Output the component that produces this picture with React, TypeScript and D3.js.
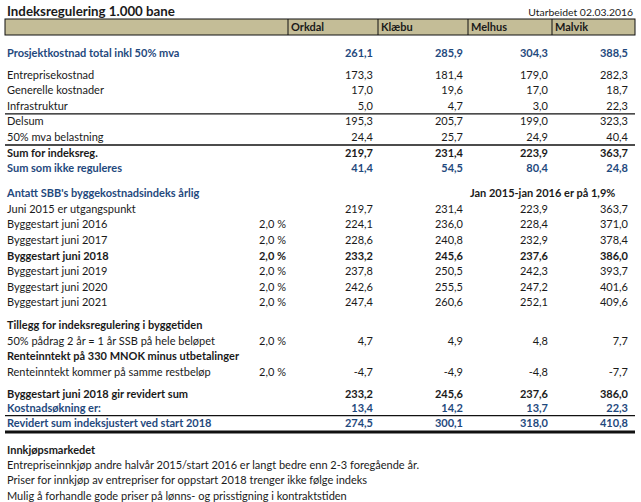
import React from "react";
import * as d3 from "d3";

const title = "Indeksregulering 1.000 bane";
const dateNote = "Utarbeidet 02.03.2016";
const columns = ["Orkdal", "Klæbu", "Melhus", "Malvik"];

const prosjektkostnad = [261.1, 285.9, 304.3, 388.5];
const entreprisekostnad = [173.3, 181.4, 179.0, 282.3];
const generelleKostnader = [17.0, 19.6, 17.0, 18.7];
const infrastruktur = [5.0, 4.7, 3.0, 22.3];
const delsum = [195.3, 205.7, 199.0, 323.3];
const mvaBelastning = [24.4, 25.7, 24.9, 40.4];
const sumIndeksreg = [219.7, 231.4, 223.9, 363.7];
const sumIkkeReguleres = [41.4, 54.5, 80.4, 24.8];
const juni2015 = [219.7, 231.4, 223.9, 363.7];
const bygg2016 = [224.1, 236.0, 228.4, 371.0];
const bygg2017 = [228.6, 240.8, 232.9, 378.4];
const bygg2018 = [233.2, 245.6, 237.6, 386.0];
const bygg2019 = [237.8, 250.5, 242.3, 393.7];
const bygg2020 = [242.6, 255.5, 247.2, 401.6];
const bygg2021 = [247.4, 260.6, 252.1, 409.6];
const tilleggIndeks = [4.7, 4.9, 4.8, 7.7];
const renteinntekt = [-4.7, -4.9, -4.8, -7.7];
const revidertSum2018 = [233.2, 245.6, 237.6, 386.0];
const kostnadsokning = [13.4, 14.2, 13.7, 22.3];
const revidertIndeksjustert = [274.5, 300.1, 318.0, 410.8];
const aarligRate = 2.0;
const notesTitle = "Innkjøpsmarkedet";
const notes = [
  "Entrepriseinnkjøp andre halvår 2015/start 2016 er langt bedre enn 2-3 foregående år.",
  "Priser for innkjøp av entrepriser for oppstart 2018 trenger ikke følge indeks",
  "Mulig å forhandle gode priser på lønns- og prisstigning i kontraktstiden",
];

type Row = {
  label: string;
  values?: number[];
  pct?: number;
  style?: "blue" | "bold" | "plain";
  gap?: number;
  extra?: string;
};

const rows: Row[] = [
  { label: "Prosjektkostnad total inkl 50% mva", values: prosjektkostnad, style: "blue", gap: 0 },
  { label: "Entreprisekostnad", values: entreprisekostnad, gap: 0.4 },
  { label: "Generelle kostnader", values: generelleKostnader },
  { label: "Infrastruktur", values: infrastruktur },
  { label: "Delsum", values: delsum },
  { label: "50% mva belastning", values: mvaBelastning },
  { label: "Sum for indeksreg.", values: sumIndeksreg, style: "bold" },
  { label: "Sum som ikke reguleres", values: sumIkkeReguleres, style: "blue" },
  { label: "Antatt SBB's byggekostnadsindeks årlig", style: "blue", gap: 0.6, extra: "Jan 2015-jan 2016 er på 1,9%" },
  { label: "Juni 2015 er utgangspunkt", values: juni2015 },
  { label: "Byggestart juni 2016", values: bygg2016, pct: aarligRate },
  { label: "Byggestart juni 2017", values: bygg2017, pct: aarligRate },
  { label: "Byggestart juni 2018", values: bygg2018, pct: aarligRate, style: "bold" },
  { label: "Byggestart juni 2019", values: bygg2019, pct: aarligRate },
  { label: "Byggestart juni 2020", values: bygg2020, pct: aarligRate },
  { label: "Byggestart juni 2021", values: bygg2021, pct: aarligRate },
  { label: "Tillegg for indeksregulering i byggetiden", style: "bold", gap: 0.45 },
  { label: "50% pådrag 2 år = 1 år SSB på hele beløpet", values: tilleggIndeks, pct: aarligRate },
  { label: "Renteinntekt på 330 MNOK minus utbetalinger", style: "bold" },
  { label: "Renteinntekt kommer på samme restbeløp", values: renteinntekt, pct: aarligRate },
  { label: "Byggestart juni 2018 gir revidert sum", values: revidertSum2018, style: "bold", gap: 0.4 },
  { label: "Kostnadsøkning er:", values: kostnadsokning, style: "blue", gap: -0.08 },
  { label: "Revidert sum indeksjustert ved start 2018", values: revidertIndeksjustert, style: "blue", gap: -0.05 },
];

const locale = d3.formatLocale({
  decimal: ",",
  thousands: " ",
  grouping: [3],
  currency: ["", " kr"],
  minus: "-",
});
const fmt = locale.format(".1f");

const BLUE = "#1f497d";
const TEXT = "#1a1a1a";
const FONT = "Lato, 'Open Sans', sans-serif";

export default function App() {
  const W = 641;
  const H = 502;
  const left = 5;
  const right = 635;
  const colEdges = [288, 378, 468, 552];
  const valueRight = d3.scaleOrdinal<string, number>().domain(columns).range([373, 463, 548, 628]);
  const headerX = d3.scaleOrdinal<string, number>().domain(columns).range(colEdges.map((e) => e + 3));
  const pctRight = 286;
  const rowH = 15.6;
  const firstY = 53;

  const centers: number[] = [];
  let y = firstY;
  rows.forEach((r, i) => {
    if (i > 0) y += rowH + (r.gap ?? 0) * rowH;
    centers.push(y);
  });
  const idx = (label: string) => rows.findIndex((r) => r.label === label);
  const lineAbove = (label: string) => (centers[idx(label)] + centers[idx(label) - 1]) / 2;
  const lastCenter = centers[centers.length - 1];
  const thickY = lastCenter + 9;
  const notesStart = lastCenter + 27;
  const noteH = 15.3;

  const fs = 11;
  const base = 3.8;

  return (
    <svg
      width={W}
      height={H}
      style={{ position: "absolute", left: 0, top: 0, background: "#fff" }}
      fontFamily={FONT}
      fontSize={fs}
    >
      <rect x={0} y={0} width={W} height={H} fill="#fff" />
      <text x={7} y={16} fontWeight="bold" fontSize={13.3} fill={TEXT}>
        {title}
      </text>
      <text x={633} y={15.5} textAnchor="end" fontSize={10.4} fill={TEXT}>
        {dateNote}
      </text>
      <rect x={left} y={19} width={right - left} height={16} fill="#c4bd97" stroke="#111" strokeWidth={1} />
      {colEdges.map((e) => (
        <line key={e} x1={e} x2={e} y1={19} y2={35} stroke="#111" strokeWidth={1} />
      ))}
      {columns.map((c) => (
        <text key={c} x={headerX(c)} y={31} fontWeight="bold" fill={TEXT}>
          {c}
        </text>
      ))}

      <line x1={left} x2={right} y1={lineAbove("Delsum")} y2={lineAbove("Delsum")} stroke="#111" strokeWidth={1.2} />
      <line
        x1={left}
        x2={right}
        y1={lineAbove("Sum for indeksreg.")}
        y2={lineAbove("Sum for indeksreg.")}
        stroke="#111"
        strokeWidth={1.5}
      />
      <line
        x1={left}
        x2={right}
        y1={lineAbove("Revidert sum indeksjustert ved start 2018")}
        y2={lineAbove("Revidert sum indeksjustert ved start 2018")}
        stroke="#111"
        strokeWidth={1.2}
      />
      <line x1={left} x2={right} y1={thickY} y2={thickY} stroke="#111" strokeWidth={3} />

      {rows.map((r, i) => {
        const cy = centers[i] + base;
        const color = r.style === "blue" ? BLUE : TEXT;
        const weight = r.style === "blue" || r.style === "bold" ? "bold" : "normal";
        return (
          <g key={r.label}>
            <text x={7} y={cy} fill={color} fontWeight={weight}>
              {r.label}
            </text>
            {r.pct !== undefined && (
              <text x={pctRight} y={cy} textAnchor="end" fill={color} fontWeight={weight}>
                {fmt(r.pct) + " %"}
              </text>
            )}
            {r.values &&
              r.values.map((v, j) => (
                <text
                  key={j}
                  x={valueRight(columns[j])}
                  y={cy}
                  textAnchor="end"
                  fill={color}
                  fontWeight={weight}
                >
                  {fmt(v)}
                </text>
              ))}
            {r.extra && (
              <text x={470} y={cy} fill={TEXT} fontWeight="bold">
                {r.extra}
              </text>
            )}
          </g>
        );
      })}

      <text x={7} y={notesStart + base} fontWeight="bold" fill={TEXT}>
        {notesTitle}
      </text>
      {notes.map((n, i) => (
        <text key={i} x={7} y={notesStart + base + (i + 1) * noteH} fill={TEXT}>
          {n}
        </text>
      ))}
    </svg>
  );
}
